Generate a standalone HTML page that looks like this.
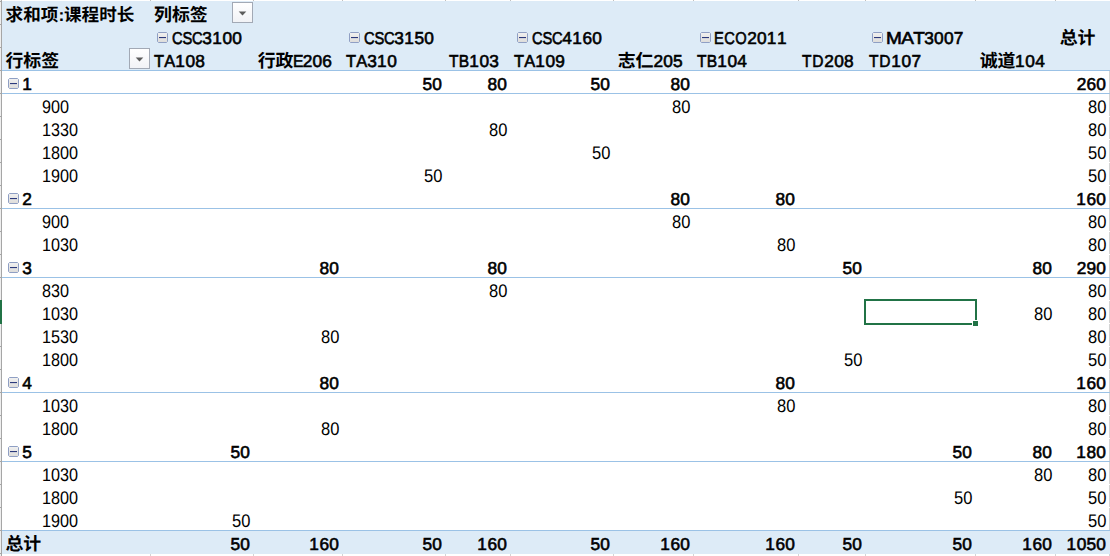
<!DOCTYPE html>
<html lang="zh-CN"><head><meta charset="utf-8"><title>PivotTable</title>
<style>
html,body{margin:0;padding:0;background:#fff;}
body{width:1110px;height:556px;position:relative;overflow:hidden;font-family:"Liberation Sans",sans-serif;color:#000;text-rendering:geometricPrecision;}
.bg{position:absolute;}
.t{font-kerning:none;position:absolute;white-space:nowrap;display:block;}
svg.ov{position:absolute;left:0;top:0;}
svg.ov text{fill:#000;font-family:"Liberation Sans","Noto Sans CJK SC",sans-serif;font-weight:bold;}
</style></head><body>
<div class="bg" style="left:2px;top:1px;width:1108px;height:69px;background:#DDEBF7"></div>
<div class="bg" style="left:2px;top:70px;width:1108px;height:1px;background:#9BC2E6"></div>
<div class="bg" style="left:1109px;top:71px;width:1px;height:459px;background:#d4d4d4"></div>
<div class="bg" style="left:1109px;top:554px;width:1px;height:2px;background:#d4d4d4"></div>
<div class="bg" style="left:1109px;top:116px;width:1px;height:1px;background:#fff"></div>
<div class="bg" style="left:1109px;top:139px;width:1px;height:1px;background:#fff"></div>
<div class="bg" style="left:1109px;top:162px;width:1px;height:1px;background:#fff"></div>
<div class="bg" style="left:1109px;top:185px;width:1px;height:1px;background:#fff"></div>
<div class="bg" style="left:1109px;top:231px;width:1px;height:1px;background:#fff"></div>
<div class="bg" style="left:1109px;top:254px;width:1px;height:1px;background:#fff"></div>
<div class="bg" style="left:1109px;top:300px;width:1px;height:1px;background:#fff"></div>
<div class="bg" style="left:1109px;top:323px;width:1px;height:1px;background:#fff"></div>
<div class="bg" style="left:1109px;top:346px;width:1px;height:1px;background:#fff"></div>
<div class="bg" style="left:1109px;top:369px;width:1px;height:1px;background:#fff"></div>
<div class="bg" style="left:1109px;top:415px;width:1px;height:1px;background:#fff"></div>
<div class="bg" style="left:1109px;top:438px;width:1px;height:1px;background:#fff"></div>
<div class="bg" style="left:1109px;top:484px;width:1px;height:1px;background:#fff"></div>
<div class="bg" style="left:1109px;top:507px;width:1px;height:1px;background:#fff"></div>
<div class="bg" style="left:2px;top:93px;width:1108px;height:1px;background:#9BC2E6"></div>
<div class="bg" style="left:2px;top:208px;width:1108px;height:1px;background:#9BC2E6"></div>
<div class="bg" style="left:2px;top:277px;width:1108px;height:1px;background:#9BC2E6"></div>
<div class="bg" style="left:2px;top:392px;width:1108px;height:1px;background:#9BC2E6"></div>
<div class="bg" style="left:2px;top:461px;width:1108px;height:1px;background:#9BC2E6"></div>
<div class="bg" style="left:2px;top:530px;width:1108px;height:1px;background:#9BC2E6"></div>
<div class="bg" style="left:2px;top:531px;width:1108px;height:23px;background:#DDEBF7"></div>
<div class="bg" style="left:0;top:0;width:1px;height:556px;background:#eeeeee"></div>
<div class="bg" style="left:1px;top:0;width:1px;height:556px;background:#a6a6a6"></div>
<div class="bg" style="left:0;top:1px;width:1px;height:1px;background:#a6a6a6"></div>
<div class="bg" style="left:0;top:24px;width:1px;height:1px;background:#a6a6a6"></div>
<div class="bg" style="left:0;top:47px;width:1px;height:1px;background:#a6a6a6"></div>
<div class="bg" style="left:0;top:70px;width:1px;height:1px;background:#a6a6a6"></div>
<div class="bg" style="left:0;top:93px;width:1px;height:1px;background:#a6a6a6"></div>
<div class="bg" style="left:0;top:116px;width:1px;height:1px;background:#a6a6a6"></div>
<div class="bg" style="left:0;top:139px;width:1px;height:1px;background:#a6a6a6"></div>
<div class="bg" style="left:0;top:162px;width:1px;height:1px;background:#a6a6a6"></div>
<div class="bg" style="left:0;top:185px;width:1px;height:1px;background:#a6a6a6"></div>
<div class="bg" style="left:0;top:208px;width:1px;height:1px;background:#a6a6a6"></div>
<div class="bg" style="left:0;top:231px;width:1px;height:1px;background:#a6a6a6"></div>
<div class="bg" style="left:0;top:254px;width:1px;height:1px;background:#a6a6a6"></div>
<div class="bg" style="left:0;top:277px;width:1px;height:1px;background:#a6a6a6"></div>
<div class="bg" style="left:0;top:300px;width:1px;height:1px;background:#a6a6a6"></div>
<div class="bg" style="left:0;top:323px;width:1px;height:1px;background:#a6a6a6"></div>
<div class="bg" style="left:0;top:346px;width:1px;height:1px;background:#a6a6a6"></div>
<div class="bg" style="left:0;top:369px;width:1px;height:1px;background:#a6a6a6"></div>
<div class="bg" style="left:0;top:392px;width:1px;height:1px;background:#a6a6a6"></div>
<div class="bg" style="left:0;top:415px;width:1px;height:1px;background:#a6a6a6"></div>
<div class="bg" style="left:0;top:438px;width:1px;height:1px;background:#a6a6a6"></div>
<div class="bg" style="left:0;top:461px;width:1px;height:1px;background:#a6a6a6"></div>
<div class="bg" style="left:0;top:484px;width:1px;height:1px;background:#a6a6a6"></div>
<div class="bg" style="left:0;top:507px;width:1px;height:1px;background:#a6a6a6"></div>
<div class="bg" style="left:0;top:530px;width:1px;height:1px;background:#a6a6a6"></div>
<div class="bg" style="left:0;top:553px;width:1px;height:1px;background:#a6a6a6"></div>
<div class="bg" style="left:150px;top:0;width:1px;height:1px;background:#c0c0c0"></div>
<div class="bg" style="left:150px;top:554px;width:1px;height:2px;background:#d4d4d4"></div>
<div class="bg" style="left:253px;top:0;width:1px;height:1px;background:#c0c0c0"></div>
<div class="bg" style="left:253px;top:554px;width:1px;height:2px;background:#d4d4d4"></div>
<div class="bg" style="left:342px;top:0;width:1px;height:1px;background:#c0c0c0"></div>
<div class="bg" style="left:342px;top:554px;width:1px;height:2px;background:#d4d4d4"></div>
<div class="bg" style="left:445px;top:0;width:1px;height:1px;background:#c0c0c0"></div>
<div class="bg" style="left:445px;top:554px;width:1px;height:2px;background:#d4d4d4"></div>
<div class="bg" style="left:510px;top:0;width:1px;height:1px;background:#c0c0c0"></div>
<div class="bg" style="left:510px;top:554px;width:1px;height:2px;background:#d4d4d4"></div>
<div class="bg" style="left:613px;top:0;width:1px;height:1px;background:#c0c0c0"></div>
<div class="bg" style="left:613px;top:554px;width:1px;height:2px;background:#d4d4d4"></div>
<div class="bg" style="left:693px;top:0;width:1px;height:1px;background:#c0c0c0"></div>
<div class="bg" style="left:693px;top:554px;width:1px;height:2px;background:#d4d4d4"></div>
<div class="bg" style="left:798px;top:0;width:1px;height:1px;background:#c0c0c0"></div>
<div class="bg" style="left:798px;top:554px;width:1px;height:2px;background:#d4d4d4"></div>
<div class="bg" style="left:865px;top:0;width:1px;height:1px;background:#c0c0c0"></div>
<div class="bg" style="left:865px;top:554px;width:1px;height:2px;background:#d4d4d4"></div>
<div class="bg" style="left:975px;top:0;width:1px;height:1px;background:#c0c0c0"></div>
<div class="bg" style="left:975px;top:554px;width:1px;height:2px;background:#d4d4d4"></div>
<div class="bg" style="left:1055px;top:0;width:1px;height:1px;background:#c0c0c0"></div>
<div class="bg" style="left:1055px;top:554px;width:1px;height:2px;background:#d4d4d4"></div>
<div class="bg" style="left:864px;top:299px;width:113px;height:26px;box-sizing:border-box;border:2px solid #217346"></div><div class="bg" style="left:972px;top:320px;width:7px;height:7px;background:#fff"></div><div class="bg" style="left:973px;top:321px;width:5px;height:5px;background:#217346"></div>
<div class="bg" style="left:0;top:300px;width:2px;height:24px;background:#217346"></div>
<svg class="ov" width="1110" height="556" viewBox="0 0 1110 556">
<defs>
<linearGradient id="cg" x1="0" y1="0" x2="0" y2="1"><stop offset="0" stop-color="#f1f1f1"/><stop offset="1" stop-color="#dddcda"/></linearGradient>
<linearGradient id="dg" x1="0" y1="0" x2="0" y2="1"><stop offset="0" stop-color="#ffffff"/><stop offset="1" stop-color="#f1f2f6"/></linearGradient>
</defs>
<text x="5.6" y="20.9" font-size="17.6">求和项</text>
<text x="58.6" y="20.9" font-size="17.6">:</text>
<text x="64" y="20.9" font-size="17.6">课程时长</text>
<text x="154" y="20.9" font-size="17.9">列标签</text>
<text x="5.4" y="66.9" font-size="17.9">行标签</text>
<g transform="translate(157,32)"><path d="M1.5 .5H9.5L10.5 1.5V9.5L9.5 10.5H1.5L.5 9.5V1.5Z" fill="url(#cg)" stroke="#8f9fc4" stroke-width="1"/><rect x="2" y="5" width="7" height="1.1" fill="#2c3a7c"/></g>
<g transform="translate(349,32)"><path d="M1.5 .5H9.5L10.5 1.5V9.5L9.5 10.5H1.5L.5 9.5V1.5Z" fill="url(#cg)" stroke="#8f9fc4" stroke-width="1"/><rect x="2" y="5" width="7" height="1.1" fill="#2c3a7c"/></g>
<g transform="translate(517,32)"><path d="M1.5 .5H9.5L10.5 1.5V9.5L9.5 10.5H1.5L.5 9.5V1.5Z" fill="url(#cg)" stroke="#8f9fc4" stroke-width="1"/><rect x="2" y="5" width="7" height="1.1" fill="#2c3a7c"/></g>
<g transform="translate(700,32)"><path d="M1.5 .5H9.5L10.5 1.5V9.5L9.5 10.5H1.5L.5 9.5V1.5Z" fill="url(#cg)" stroke="#8f9fc4" stroke-width="1"/><rect x="2" y="5" width="7" height="1.1" fill="#2c3a7c"/></g>
<g transform="translate(872,32)"><path d="M1.5 .5H9.5L10.5 1.5V9.5L9.5 10.5H1.5L.5 9.5V1.5Z" fill="url(#cg)" stroke="#8f9fc4" stroke-width="1"/><rect x="2" y="5" width="7" height="1.1" fill="#2c3a7c"/></g>
<text x="1059.7" y="43.9" font-size="17.9">总计</text>
<text x="257.7" y="66.9" font-size="17.9">行政</text>
<text x="617.7" y="66.9" font-size="17.9">志仁</text>
<text x="979.7" y="66.9" font-size="17.9">诚道</text>
<g transform="translate(232,2)"><rect x="0.5" y="0.5" width="20" height="20" fill="url(#dg)" stroke="#a2a9b5" stroke-width="1"/><path d="M6.7 9.4 L14.3 9.4 L10.5 13.4 Z" fill="#5c5c5c"/></g>
<g transform="translate(129,48)"><rect x="0.5" y="0.5" width="20" height="20" fill="url(#dg)" stroke="#a2a9b5" stroke-width="1"/><path d="M6.7 9.4 L14.3 9.4 L10.5 13.4 Z" fill="#5c5c5c"/></g>
<g transform="translate(8,78)"><path d="M1.5 .5H9.5L10.5 1.5V9.5L9.5 10.5H1.5L.5 9.5V1.5Z" fill="url(#cg)" stroke="#8f9fc4" stroke-width="1"/><rect x="2" y="5" width="7" height="1.1" fill="#2c3a7c"/></g>
<g transform="translate(8,193)"><path d="M1.5 .5H9.5L10.5 1.5V9.5L9.5 10.5H1.5L.5 9.5V1.5Z" fill="url(#cg)" stroke="#8f9fc4" stroke-width="1"/><rect x="2" y="5" width="7" height="1.1" fill="#2c3a7c"/></g>
<g transform="translate(8,262)"><path d="M1.5 .5H9.5L10.5 1.5V9.5L9.5 10.5H1.5L.5 9.5V1.5Z" fill="url(#cg)" stroke="#8f9fc4" stroke-width="1"/><rect x="2" y="5" width="7" height="1.1" fill="#2c3a7c"/></g>
<g transform="translate(8,377)"><path d="M1.5 .5H9.5L10.5 1.5V9.5L9.5 10.5H1.5L.5 9.5V1.5Z" fill="url(#cg)" stroke="#8f9fc4" stroke-width="1"/><rect x="2" y="5" width="7" height="1.1" fill="#2c3a7c"/></g>
<g transform="translate(8,446)"><path d="M1.5 .5H9.5L10.5 1.5V9.5L9.5 10.5H1.5L.5 9.5V1.5Z" fill="url(#cg)" stroke="#8f9fc4" stroke-width="1"/><rect x="2" y="5" width="7" height="1.1" fill="#2c3a7c"/></g>
<text x="5.4" y="549.9" font-size="17.9">总计</text>
</svg>
<span class="t " style="top:28px;font-size:17.3px;line-height:20px;height:20px;-webkit-text-stroke:0.6px #000;left:171.80px;transform-origin:0 0;"><span style="display:inline-block;letter-spacing:-0.20px;transform:scaleX(0.85);transform-origin:0 50%;margin-right:-5.39px">CSC</span><span style="letter-spacing:0.19px">3<span style="letter-spacing:0.64px">1</span>00</span></span>
<span class="t " style="top:28px;font-size:17.3px;line-height:20px;height:20px;-webkit-text-stroke:0.6px #000;left:363.80px;transform-origin:0 0;"><span style="display:inline-block;letter-spacing:-0.20px;transform:scaleX(0.85);transform-origin:0 50%;margin-right:-5.39px">CSC</span><span style="letter-spacing:0.19px">3<span style="letter-spacing:0.64px">1</span>50</span></span>
<span class="t " style="top:28px;font-size:17.3px;line-height:20px;height:20px;-webkit-text-stroke:0.6px #000;left:531.80px;transform-origin:0 0;"><span style="display:inline-block;letter-spacing:-0.20px;transform:scaleX(0.85);transform-origin:0 50%;margin-right:-5.39px">CSC</span><span style="letter-spacing:0.19px">4<span style="letter-spacing:0.64px">1</span>60</span></span>
<span class="t " style="top:28px;font-size:17.3px;line-height:20px;height:20px;-webkit-text-stroke:0.6px #000;left:714.20px;transform-origin:0 0;"><span style="display:inline-block;letter-spacing:0.44px;transform:scaleX(0.85);transform-origin:0 50%;margin-right:-5.82px">ECO</span><span style="letter-spacing:0.19px">20<span style="letter-spacing:0.64px">1</span>1</span></span>
<span class="t " style="top:28px;font-size:17.3px;line-height:20px;height:20px;-webkit-text-stroke:0.6px #000;left:886.20px;transform-origin:0 0;"><span style="display:inline-block;letter-spacing:-0.61px;transform:scaleX(1.1);transform-origin:0 50%;margin-right:3.47px">MAT</span><span style="letter-spacing:0.19px">3007</span></span>
<span class="t " style="top:51px;font-size:17.3px;line-height:20px;height:20px;-webkit-text-stroke:0.6px #000;left:153.90px;transform-origin:0 0;"><span style="display:inline-block;letter-spacing:0.16px;transform:scaleX(0.95);transform-origin:0 50%;margin-right:-1.12px">TA</span><span style="letter-spacing:0.19px"><span style="letter-spacing:0.64px">1</span>08</span></span>
<span class="t " style="top:51px;font-size:17.3px;line-height:20px;height:20px;-webkit-text-stroke:0.6px #000;left:345.90px;transform-origin:0 0;"><span style="display:inline-block;letter-spacing:0.16px;transform:scaleX(0.95);transform-origin:0 50%;margin-right:-1.12px">TA</span><span style="letter-spacing:0.19px">3<span style="letter-spacing:0.64px">1</span>0</span></span>
<span class="t " style="top:51px;font-size:17.3px;line-height:20px;height:20px;-webkit-text-stroke:0.6px #000;left:448.90px;transform-origin:0 0;"><span style="display:inline-block;letter-spacing:0.23px;transform:scaleX(0.9);transform-origin:0 50%;margin-right:-2.26px">TB</span><span style="letter-spacing:0.19px"><span style="letter-spacing:0.64px">1</span>03</span></span>
<span class="t " style="top:51px;font-size:17.3px;line-height:20px;height:20px;-webkit-text-stroke:0.6px #000;left:513.90px;transform-origin:0 0;"><span style="display:inline-block;letter-spacing:0.16px;transform:scaleX(0.95);transform-origin:0 50%;margin-right:-1.12px">TA</span><span style="letter-spacing:0.19px"><span style="letter-spacing:0.64px">1</span>09</span></span>
<span class="t " style="top:51px;font-size:17.3px;line-height:20px;height:20px;-webkit-text-stroke:0.6px #000;left:696.90px;transform-origin:0 0;"><span style="display:inline-block;letter-spacing:0.23px;transform:scaleX(0.9);transform-origin:0 50%;margin-right:-2.26px">TB</span><span style="letter-spacing:0.19px"><span style="letter-spacing:0.64px">1</span>04</span></span>
<span class="t " style="top:51px;font-size:17.3px;line-height:20px;height:20px;-webkit-text-stroke:0.6px #000;left:801.90px;transform-origin:0 0;"><span style="display:inline-block;letter-spacing:0.95px;transform:scaleX(0.9);transform-origin:0 50%;margin-right:-2.50px">TD</span><span style="letter-spacing:0.19px">208</span></span>
<span class="t " style="top:51px;font-size:17.3px;line-height:20px;height:20px;-webkit-text-stroke:0.6px #000;left:868.90px;transform-origin:0 0;"><span style="display:inline-block;letter-spacing:0.95px;transform:scaleX(0.9);transform-origin:0 50%;margin-right:-2.50px">TD</span><span style="letter-spacing:0.19px"><span style="letter-spacing:0.64px">1</span>07</span></span>
<span class="t " style="top:51px;font-size:17.3px;line-height:20px;height:20px;-webkit-text-stroke:0.6px #000;left:292.50px;transform-origin:0 0;"><span style="display:inline-block;letter-spacing:-0.40px;transform:scaleX(0.91);transform-origin:0 50%;margin-right:-1.00px">E</span><span style="letter-spacing:0.19px">206</span></span>
<span class="t " style="top:51px;font-size:17.3px;line-height:20px;height:20px;-webkit-text-stroke:0.6px #000;left:653.40px;transform-origin:0 0;"><span style="letter-spacing:0.19px">205</span></span>
<span class="t " style="top:51px;font-size:17.3px;line-height:20px;height:20px;-webkit-text-stroke:0.6px #000;left:1015.10px;transform-origin:0 0;"><span style="letter-spacing:0.19px"><span style="letter-spacing:0.64px">1</span>04</span></span>
<span class="t " style="top:74px;font-size:17.3px;line-height:20px;height:20px;-webkit-text-stroke:0.6px #000;left:22.20px;transform-origin:0 0;">1</span>
<span class="t " style="top:74px;font-size:17.3px;line-height:20px;height:20px;-webkit-text-stroke:0.6px #000;right:667.91px;transform-origin:100% 0;"><span style="letter-spacing:0.19px">50</span></span>
<span class="t " style="top:74px;font-size:17.3px;line-height:20px;height:20px;-webkit-text-stroke:0.6px #000;right:602.91px;transform-origin:100% 0;"><span style="letter-spacing:0.19px">80</span></span>
<span class="t " style="top:74px;font-size:17.3px;line-height:20px;height:20px;-webkit-text-stroke:0.6px #000;right:499.91px;transform-origin:100% 0;"><span style="letter-spacing:0.19px">50</span></span>
<span class="t " style="top:74px;font-size:17.3px;line-height:20px;height:20px;-webkit-text-stroke:0.6px #000;right:419.91px;transform-origin:100% 0;"><span style="letter-spacing:0.19px">80</span></span>
<span class="t " style="top:74px;font-size:17.3px;line-height:20px;height:20px;-webkit-text-stroke:0.6px #000;right:3.91px;transform-origin:100% 0;"><span style="letter-spacing:0.19px">260</span></span>
<span class="t " style="top:96px;font-size:18.3px;line-height:21px;height:21px;left:42.40px;transform-origin:0 0;transform:scaleX(0.887);">900</span>
<span class="t " style="top:96px;font-size:18.3px;line-height:21px;height:21px;right:419.60px;transform-origin:100% 0;transform:scaleX(0.903);">80</span>
<span class="t " style="top:96px;font-size:18.3px;line-height:21px;height:21px;right:3.60px;transform-origin:100% 0;transform:scaleX(0.903);">80</span>
<span class="t " style="top:119px;font-size:18.3px;line-height:21px;height:21px;left:42.40px;transform-origin:0 0;transform:scaleX(0.887);">1330</span>
<span class="t " style="top:119px;font-size:18.3px;line-height:21px;height:21px;right:602.60px;transform-origin:100% 0;transform:scaleX(0.903);">80</span>
<span class="t " style="top:119px;font-size:18.3px;line-height:21px;height:21px;right:3.60px;transform-origin:100% 0;transform:scaleX(0.903);">80</span>
<span class="t " style="top:142px;font-size:18.3px;line-height:21px;height:21px;left:42.40px;transform-origin:0 0;transform:scaleX(0.887);">1800</span>
<span class="t " style="top:142px;font-size:18.3px;line-height:21px;height:21px;right:499.60px;transform-origin:100% 0;transform:scaleX(0.903);">50</span>
<span class="t " style="top:142px;font-size:18.3px;line-height:21px;height:21px;right:3.60px;transform-origin:100% 0;transform:scaleX(0.903);">50</span>
<span class="t " style="top:165px;font-size:18.3px;line-height:21px;height:21px;left:42.40px;transform-origin:0 0;transform:scaleX(0.887);">1900</span>
<span class="t " style="top:165px;font-size:18.3px;line-height:21px;height:21px;right:667.60px;transform-origin:100% 0;transform:scaleX(0.903);">50</span>
<span class="t " style="top:165px;font-size:18.3px;line-height:21px;height:21px;right:3.60px;transform-origin:100% 0;transform:scaleX(0.903);">50</span>
<span class="t " style="top:189px;font-size:17.3px;line-height:20px;height:20px;-webkit-text-stroke:0.6px #000;left:22.20px;transform-origin:0 0;">2</span>
<span class="t " style="top:189px;font-size:17.3px;line-height:20px;height:20px;-webkit-text-stroke:0.6px #000;right:419.91px;transform-origin:100% 0;"><span style="letter-spacing:0.19px">80</span></span>
<span class="t " style="top:189px;font-size:17.3px;line-height:20px;height:20px;-webkit-text-stroke:0.6px #000;right:314.91px;transform-origin:100% 0;"><span style="letter-spacing:0.19px">80</span></span>
<span class="t " style="top:189px;font-size:17.3px;line-height:20px;height:20px;-webkit-text-stroke:0.6px #000;right:3.91px;transform-origin:100% 0;"><span style="letter-spacing:0.19px"><span style="letter-spacing:0.64px">1</span>60</span></span>
<span class="t " style="top:211px;font-size:18.3px;line-height:21px;height:21px;left:42.40px;transform-origin:0 0;transform:scaleX(0.887);">900</span>
<span class="t " style="top:211px;font-size:18.3px;line-height:21px;height:21px;right:419.60px;transform-origin:100% 0;transform:scaleX(0.903);">80</span>
<span class="t " style="top:211px;font-size:18.3px;line-height:21px;height:21px;right:3.60px;transform-origin:100% 0;transform:scaleX(0.903);">80</span>
<span class="t " style="top:234px;font-size:18.3px;line-height:21px;height:21px;left:42.40px;transform-origin:0 0;transform:scaleX(0.887);">1030</span>
<span class="t " style="top:234px;font-size:18.3px;line-height:21px;height:21px;right:314.60px;transform-origin:100% 0;transform:scaleX(0.903);">80</span>
<span class="t " style="top:234px;font-size:18.3px;line-height:21px;height:21px;right:3.60px;transform-origin:100% 0;transform:scaleX(0.903);">80</span>
<span class="t " style="top:258px;font-size:17.3px;line-height:20px;height:20px;-webkit-text-stroke:0.6px #000;left:22.20px;transform-origin:0 0;">3</span>
<span class="t " style="top:258px;font-size:17.3px;line-height:20px;height:20px;-webkit-text-stroke:0.6px #000;right:770.91px;transform-origin:100% 0;"><span style="letter-spacing:0.19px">80</span></span>
<span class="t " style="top:258px;font-size:17.3px;line-height:20px;height:20px;-webkit-text-stroke:0.6px #000;right:602.91px;transform-origin:100% 0;"><span style="letter-spacing:0.19px">80</span></span>
<span class="t " style="top:258px;font-size:17.3px;line-height:20px;height:20px;-webkit-text-stroke:0.6px #000;right:247.91px;transform-origin:100% 0;"><span style="letter-spacing:0.19px">50</span></span>
<span class="t " style="top:258px;font-size:17.3px;line-height:20px;height:20px;-webkit-text-stroke:0.6px #000;right:57.91px;transform-origin:100% 0;"><span style="letter-spacing:0.19px">80</span></span>
<span class="t " style="top:258px;font-size:17.3px;line-height:20px;height:20px;-webkit-text-stroke:0.6px #000;right:3.91px;transform-origin:100% 0;"><span style="letter-spacing:0.19px">290</span></span>
<span class="t " style="top:280px;font-size:18.3px;line-height:21px;height:21px;left:42.40px;transform-origin:0 0;transform:scaleX(0.887);">830</span>
<span class="t " style="top:280px;font-size:18.3px;line-height:21px;height:21px;right:602.60px;transform-origin:100% 0;transform:scaleX(0.903);">80</span>
<span class="t " style="top:280px;font-size:18.3px;line-height:21px;height:21px;right:3.60px;transform-origin:100% 0;transform:scaleX(0.903);">80</span>
<span class="t " style="top:303px;font-size:18.3px;line-height:21px;height:21px;left:42.40px;transform-origin:0 0;transform:scaleX(0.887);">1030</span>
<span class="t " style="top:303px;font-size:18.3px;line-height:21px;height:21px;right:57.60px;transform-origin:100% 0;transform:scaleX(0.903);">80</span>
<span class="t " style="top:303px;font-size:18.3px;line-height:21px;height:21px;right:3.60px;transform-origin:100% 0;transform:scaleX(0.903);">80</span>
<span class="t " style="top:326px;font-size:18.3px;line-height:21px;height:21px;left:42.40px;transform-origin:0 0;transform:scaleX(0.887);">1530</span>
<span class="t " style="top:326px;font-size:18.3px;line-height:21px;height:21px;right:770.60px;transform-origin:100% 0;transform:scaleX(0.903);">80</span>
<span class="t " style="top:326px;font-size:18.3px;line-height:21px;height:21px;right:3.60px;transform-origin:100% 0;transform:scaleX(0.903);">80</span>
<span class="t " style="top:349px;font-size:18.3px;line-height:21px;height:21px;left:42.40px;transform-origin:0 0;transform:scaleX(0.887);">1800</span>
<span class="t " style="top:349px;font-size:18.3px;line-height:21px;height:21px;right:247.60px;transform-origin:100% 0;transform:scaleX(0.903);">50</span>
<span class="t " style="top:349px;font-size:18.3px;line-height:21px;height:21px;right:3.60px;transform-origin:100% 0;transform:scaleX(0.903);">50</span>
<span class="t " style="top:373px;font-size:17.3px;line-height:20px;height:20px;-webkit-text-stroke:0.6px #000;left:22.20px;transform-origin:0 0;">4</span>
<span class="t " style="top:373px;font-size:17.3px;line-height:20px;height:20px;-webkit-text-stroke:0.6px #000;right:770.91px;transform-origin:100% 0;"><span style="letter-spacing:0.19px">80</span></span>
<span class="t " style="top:373px;font-size:17.3px;line-height:20px;height:20px;-webkit-text-stroke:0.6px #000;right:314.91px;transform-origin:100% 0;"><span style="letter-spacing:0.19px">80</span></span>
<span class="t " style="top:373px;font-size:17.3px;line-height:20px;height:20px;-webkit-text-stroke:0.6px #000;right:3.91px;transform-origin:100% 0;"><span style="letter-spacing:0.19px"><span style="letter-spacing:0.64px">1</span>60</span></span>
<span class="t " style="top:395px;font-size:18.3px;line-height:21px;height:21px;left:42.40px;transform-origin:0 0;transform:scaleX(0.887);">1030</span>
<span class="t " style="top:395px;font-size:18.3px;line-height:21px;height:21px;right:314.60px;transform-origin:100% 0;transform:scaleX(0.903);">80</span>
<span class="t " style="top:395px;font-size:18.3px;line-height:21px;height:21px;right:3.60px;transform-origin:100% 0;transform:scaleX(0.903);">80</span>
<span class="t " style="top:418px;font-size:18.3px;line-height:21px;height:21px;left:42.40px;transform-origin:0 0;transform:scaleX(0.887);">1800</span>
<span class="t " style="top:418px;font-size:18.3px;line-height:21px;height:21px;right:770.60px;transform-origin:100% 0;transform:scaleX(0.903);">80</span>
<span class="t " style="top:418px;font-size:18.3px;line-height:21px;height:21px;right:3.60px;transform-origin:100% 0;transform:scaleX(0.903);">80</span>
<span class="t " style="top:442px;font-size:17.3px;line-height:20px;height:20px;-webkit-text-stroke:0.6px #000;left:22.20px;transform-origin:0 0;">5</span>
<span class="t " style="top:442px;font-size:17.3px;line-height:20px;height:20px;-webkit-text-stroke:0.6px #000;right:859.91px;transform-origin:100% 0;"><span style="letter-spacing:0.19px">50</span></span>
<span class="t " style="top:442px;font-size:17.3px;line-height:20px;height:20px;-webkit-text-stroke:0.6px #000;right:137.91px;transform-origin:100% 0;"><span style="letter-spacing:0.19px">50</span></span>
<span class="t " style="top:442px;font-size:17.3px;line-height:20px;height:20px;-webkit-text-stroke:0.6px #000;right:57.91px;transform-origin:100% 0;"><span style="letter-spacing:0.19px">80</span></span>
<span class="t " style="top:442px;font-size:17.3px;line-height:20px;height:20px;-webkit-text-stroke:0.6px #000;right:3.91px;transform-origin:100% 0;"><span style="letter-spacing:0.19px"><span style="letter-spacing:0.64px">1</span>80</span></span>
<span class="t " style="top:464px;font-size:18.3px;line-height:21px;height:21px;left:42.40px;transform-origin:0 0;transform:scaleX(0.887);">1030</span>
<span class="t " style="top:464px;font-size:18.3px;line-height:21px;height:21px;right:57.60px;transform-origin:100% 0;transform:scaleX(0.903);">80</span>
<span class="t " style="top:464px;font-size:18.3px;line-height:21px;height:21px;right:3.60px;transform-origin:100% 0;transform:scaleX(0.903);">80</span>
<span class="t " style="top:487px;font-size:18.3px;line-height:21px;height:21px;left:42.40px;transform-origin:0 0;transform:scaleX(0.887);">1800</span>
<span class="t " style="top:487px;font-size:18.3px;line-height:21px;height:21px;right:137.60px;transform-origin:100% 0;transform:scaleX(0.903);">50</span>
<span class="t " style="top:487px;font-size:18.3px;line-height:21px;height:21px;right:3.60px;transform-origin:100% 0;transform:scaleX(0.903);">50</span>
<span class="t " style="top:510px;font-size:18.3px;line-height:21px;height:21px;left:42.40px;transform-origin:0 0;transform:scaleX(0.887);">1900</span>
<span class="t " style="top:510px;font-size:18.3px;line-height:21px;height:21px;right:859.60px;transform-origin:100% 0;transform:scaleX(0.903);">50</span>
<span class="t " style="top:510px;font-size:18.3px;line-height:21px;height:21px;right:3.60px;transform-origin:100% 0;transform:scaleX(0.903);">50</span>
<span class="t " style="top:534px;font-size:17.3px;line-height:20px;height:20px;-webkit-text-stroke:0.6px #000;right:859.91px;transform-origin:100% 0;"><span style="letter-spacing:0.19px">50</span></span>
<span class="t " style="top:534px;font-size:17.3px;line-height:20px;height:20px;-webkit-text-stroke:0.6px #000;right:770.91px;transform-origin:100% 0;"><span style="letter-spacing:0.19px"><span style="letter-spacing:0.64px">1</span>60</span></span>
<span class="t " style="top:534px;font-size:17.3px;line-height:20px;height:20px;-webkit-text-stroke:0.6px #000;right:667.91px;transform-origin:100% 0;"><span style="letter-spacing:0.19px">50</span></span>
<span class="t " style="top:534px;font-size:17.3px;line-height:20px;height:20px;-webkit-text-stroke:0.6px #000;right:602.91px;transform-origin:100% 0;"><span style="letter-spacing:0.19px"><span style="letter-spacing:0.64px">1</span>60</span></span>
<span class="t " style="top:534px;font-size:17.3px;line-height:20px;height:20px;-webkit-text-stroke:0.6px #000;right:499.91px;transform-origin:100% 0;"><span style="letter-spacing:0.19px">50</span></span>
<span class="t " style="top:534px;font-size:17.3px;line-height:20px;height:20px;-webkit-text-stroke:0.6px #000;right:419.91px;transform-origin:100% 0;"><span style="letter-spacing:0.19px"><span style="letter-spacing:0.64px">1</span>60</span></span>
<span class="t " style="top:534px;font-size:17.3px;line-height:20px;height:20px;-webkit-text-stroke:0.6px #000;right:314.91px;transform-origin:100% 0;"><span style="letter-spacing:0.19px"><span style="letter-spacing:0.64px">1</span>60</span></span>
<span class="t " style="top:534px;font-size:17.3px;line-height:20px;height:20px;-webkit-text-stroke:0.6px #000;right:247.91px;transform-origin:100% 0;"><span style="letter-spacing:0.19px">50</span></span>
<span class="t " style="top:534px;font-size:17.3px;line-height:20px;height:20px;-webkit-text-stroke:0.6px #000;right:137.91px;transform-origin:100% 0;"><span style="letter-spacing:0.19px">50</span></span>
<span class="t " style="top:534px;font-size:17.3px;line-height:20px;height:20px;-webkit-text-stroke:0.6px #000;right:57.91px;transform-origin:100% 0;"><span style="letter-spacing:0.19px"><span style="letter-spacing:0.64px">1</span>60</span></span>
<span class="t " style="top:534px;font-size:17.3px;line-height:20px;height:20px;-webkit-text-stroke:0.6px #000;right:3.91px;transform-origin:100% 0;"><span style="letter-spacing:0.19px"><span style="letter-spacing:0.64px">1</span>050</span></span>
</body></html>
